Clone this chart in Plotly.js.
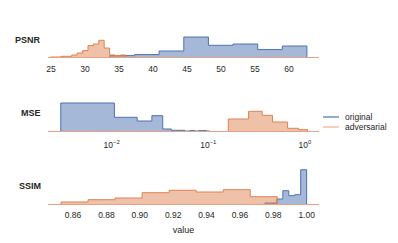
<!DOCTYPE html>
<html>
<head>
<meta charset="utf-8">
<script src="https://cdn.plot.ly/plotly-3.0.1.min.js"></script>
<style>html,body{margin:0;padding:0;background:#fff;}#chart{width:398px;height:243px;}</style>
</head>
<body>
<div id="chart"></div>
<script>
// ---- data (bin edges and bar heights) ----
const metrics = ['PSNR', 'MSE', 'SSIM'];
const seriesNames = ['original', 'adversarial'];

const psnrOrigEdges = [33.65, 37.28, 40.90, 44.53, 48.15, 51.76, 55.40, 59.01, 62.63];
const psnrOrigCounts = [1.7, 2.7, 6.3, 20.3, 12.0, 13.3, 7.7, 11.3];
const psnrAdvEdges = [24.88, 25.68, 26.47, 27.27, 28.06, 28.85, 29.65, 30.44, 31.24, 32.03, 32.82, 33.62, 34.41, 35.21, 36.00];
const psnrAdvCounts = [0.3, 0.3, 1.0, 1.0, 2.3, 4.3, 6.7, 11.7, 13.3, 17.0, 9.3, 2.3, 1.8, 2.3];

const mseOrigEdges = [0.00298, 0.01068, 0.01838, 0.02608, 0.03378, 0.04148, 0.04918, 0.05688, 0.06458, 0.07228, 0.07998, 0.08768, 0.09538, 0.10308];
const mseOrigCounts = [28.3, 14.0, 10.3, 15.6, 2.3, 1.0, 1.0, 0.3, 0.7, 0.3, 0.7, 0.7, 0.3];
const mseAdvEdges = [0.161, 0.261, 0.361, 0.461, 0.561, 0.661, 0.761, 0.861, 0.961, 1.061];
const mseAdvCounts = [12.3, 20.0, 16.0, 9.3, 9.3, 3.0, 3.0, 1.7, 1.7];

const ssimOrigEdges = [0.97501, 0.97858, 0.98215, 0.98572, 0.98929, 0.99286, 0.99643, 1.0];
const ssimOrigCounts = [1.0, 1.0, 5.0, 13.3, 8.3, 9.3, 34.3];
const ssimAdvEdges = [0.8528, 0.8690, 0.8852, 0.9014, 0.9176, 0.9338, 0.9500, 0.9662, 0.9824];
const ssimAdvCounts = [2.0, 4.3, 6.0, 11.3, 13.7, 12.0, 14.3, 7.3];

const psnrTicks = [25, 30, 35, 40, 45, 50, 55, 60];
const mseTickVals = [0.01, 0.1, 1];
const mseTickText = ['10<sup>\u22122</sup>', '10<sup>\u22121</sup>', '10<sup>0</sup>'];
const ssimTicks = [0.86, 0.88, 0.90, 0.92, 0.94, 0.96, 0.98, 1.00];

// ---- styling ----
const BLUE = '#4c72b0', BLUE_FILL = 'rgba(76,114,176,0.5)';
const ORANGE = '#dd8452', ORANGE_FILL = 'rgba(221,132,82,0.5)';
const TXT = '#262626';
const FONT = 'Liberation Sans, Arial, sans-serif';

function stepTrace(edges, counts, color, fill, xa, ya, name) {
  return {
    type: 'scatter', mode: 'lines', name: name, showlegend: false,
    x: [edges[0]].concat(edges),
    y: [0].concat(counts, [0]),
    line: {shape: 'hv', color: color, width: 1},
    fill: 'tozeroy', fillcolor: fill,
    xaxis: xa, yaxis: ya, hoverinfo: 'skip'
  };
}

const traces = [
  stepTrace(psnrOrigEdges, psnrOrigCounts, BLUE, BLUE_FILL, 'x', 'y', seriesNames[0]),
  stepTrace(psnrAdvEdges, psnrAdvCounts, ORANGE, ORANGE_FILL, 'x', 'y', seriesNames[1]),
  stepTrace(mseOrigEdges, mseOrigCounts, BLUE, BLUE_FILL, 'x2', 'y2', seriesNames[0]),
  stepTrace(mseAdvEdges, mseAdvCounts, ORANGE, ORANGE_FILL, 'x2', 'y2', seriesNames[1]),
  stepTrace(ssimOrigEdges, ssimOrigCounts, BLUE, BLUE_FILL, 'x3', 'y3', seriesNames[0]),
  stepTrace(ssimAdvEdges, ssimAdvCounts, ORANGE, ORANGE_FILL, 'x3', 'y3', seriesNames[1])
];

const W = 398, H = 243, ML = 48, MR = 79, MT = 20, MB = 39;
const PW = W - ML - MR, PH = H - MT - MB;
const px = x => (x - ML) / PW;
const py = y => (H - MB - y) / PH;

const xBase = {
  showgrid: false, zeroline: false, showline: true, linecolor: '#e6a282', linewidth: 1,
  ticks: '', ticklabelstandoff: 3, tickfont: {family: FONT, size: 8.5, color: TXT}, fixedrange: true
};
const yBase = {visible: false, showgrid: false, zeroline: false, fixedrange: true};

const layout = {
  width: W, height: H,
  margin: {l: ML, r: MR, t: MT, b: MB},
  paper_bgcolor: '#fff', plot_bgcolor: '#fff',
  showlegend: false,
  font: {family: FONT, color: TXT},
  xaxis: Object.assign({}, xBase, {anchor: 'y', range: [24.56, 64.41], tickmode: 'array', tickvals: psnrTicks}),
  yaxis: Object.assign({}, yBase, {domain: [py(57.3), 1], range: [0, 37.3]}),
  xaxis2: Object.assign({}, xBase, {anchor: 'y2', type: 'log', range: [-2.658, 0.145], tickmode: 'array', tickvals: mseTickVals, ticktext: mseTickText, ticklabelstandoff: 5}),
  yaxis2: Object.assign({}, yBase, {domain: [py(131.3), py(95)], range: [0, 36.3]}),
  xaxis3: Object.assign({}, xBase, {anchor: 'y3', range: [0.845, 1.0074], tickmode: 'array', tickvals: ssimTicks, tickformat: '.2f',
    title: {text: 'value', font: {family: FONT, size: 9, color: TXT}, standoff: 7}}),
  yaxis3: Object.assign({}, yBase, {domain: [0, py(165)], range: [0, 39]}),
  annotations: [
    {text: metrics[0], x: px(43), y: py(40)},
    {text: metrics[1], x: px(43), y: py(113)},
    {text: metrics[2], x: px(43), y: py(186)}
  ].map(a => Object.assign(a, {xref: 'paper', yref: 'paper', xanchor: 'right', yanchor: 'middle', showarrow: false,
      font: {family: FONT, size: 9, color: TXT, weight: 'bold'}})).concat([
    {text: seriesNames[0], x: px(343), y: py(117)},
    {text: seriesNames[1], x: px(343), y: py(127)}
  ].map(a => Object.assign(a, {xref: 'paper', yref: 'paper', xanchor: 'left', yanchor: 'middle', showarrow: false,
      font: {family: FONT, size: 8.5, color: TXT}}))),
  shapes: [
    {type: 'line', xref: 'paper', yref: 'paper', x0: px(323), x1: px(339), y0: py(117), y1: py(117), line: {color: BLUE, width: 1.2}},
    {type: 'line', xref: 'paper', yref: 'paper', x0: px(323), x1: px(339), y0: py(127), y1: py(127), line: {color: '#eeb090', width: 1.2}}
  ]
};

Plotly.newPlot('chart', traces, layout, {displayModeBar: false, staticPlot: true});
</script>
</body>
</html>
